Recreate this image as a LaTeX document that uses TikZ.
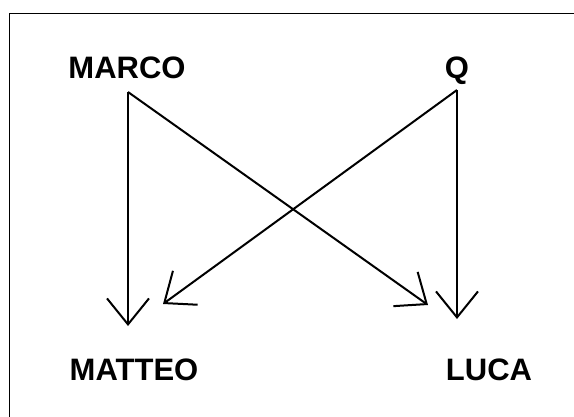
\documentclass[tikz,border=0pt]{standalone}
\usepackage{fontspec}
\setmainfont{Liberation Sans}
\usetikzlibrary{arrows.meta}
\begin{document}
\begin{tikzpicture}[x=1pt,y=-1pt,
  lbl/.style={font=\bfseries\fontsize{31}{31}\selectfont, inner sep=0pt, anchor=base},
  link/.style={line width=2pt, -{Straight Barb[length=26pt,width=42pt,line width=2pt]}}]
\useasboundingbox (0,0) rectangle (574,416);
\fill[white] (0,0) rectangle (574,416);
\draw[line width=1pt] (9.5,13.5) rectangle (600,440);
\node[lbl] (marco) at (127,78) {MARCO};
\node[lbl] (q) at (457,78) {Q};
\node[lbl] (matteo) at (134,380) {MATTEO};
\node[lbl] (luca) at (489,380) {LUCA};
\coordinate (ms) at (128,92);
\coordinate (qs) at (457,90);
\coordinate (mt) at (128,326);
\coordinate (mt2) at (163,304);
\coordinate (lt) at (428,305);
\coordinate (lt2) at (457,319);
\draw[link] (ms) -- (mt);
\draw[link] (ms) -- (lt);
\draw[link] (qs) -- (mt2);
\draw[link] (qs) -- (lt2);
\end{tikzpicture}
\end{document}
